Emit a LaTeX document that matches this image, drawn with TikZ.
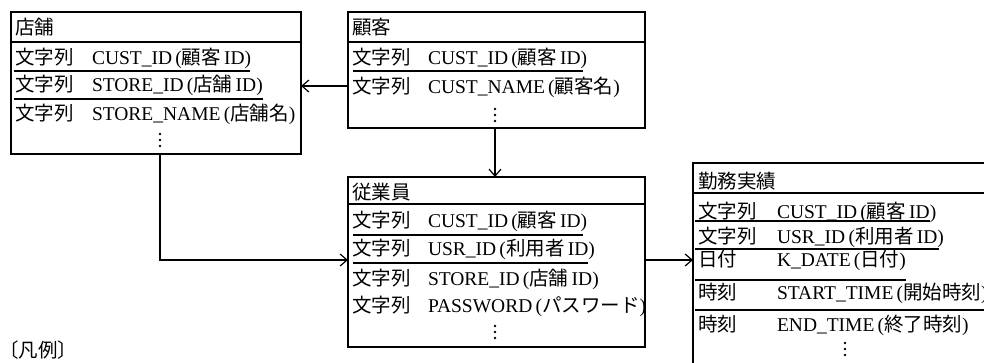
\documentclass[tikz,border=0pt]{standalone}
\usepackage{fontspec}
\setmainfont{Liberation Serif}
\newfontfamily\cjk{Noto Sans CJK JP}
\usetikzlibrary{arrows.meta}
\newcommand\J[1]{{\cjk #1}}
\begin{document}
\begin{tikzpicture}[x=1pt,y=-1pt,
  every node/.style={inner sep=0pt, outer sep=0pt, font=\fontsize{19.5}{21}\selectfont},
  ent/.style={draw, line width=1.4pt, anchor=north west},
  txt/.style={anchor=base west, yshift=-7pt},
  sep/.style={line width=1.2pt},
  arr/.style={line width=1.2pt, -{Straight Barb[length=7pt,width=12pt]}},
  vdot/.style={fill, circle, minimum size=2.6pt}
]
\useasboundingbox (0,0) rectangle (984,362);
\clip (0,0) rectangle (984,362);

% entity boxes
\node[ent, minimum width=290pt, minimum height=142pt] (store) at (11,12) {};
\node[ent, minimum width=297pt, minimum height=116pt] (cust) at (348,12) {};
\node[ent, minimum width=297pt, minimum height=170pt] (emp) at (348,177) {};
\node[ent, minimum width=400pt, minimum height=260pt] (work) at (693,163) {};

% header separators
\draw[sep] (store.west |- 0,42) -- (store.east |- 0,42);
\draw[sep] (cust.west |- 0,42) -- (cust.east |- 0,42);
\draw[sep] (emp.west |- 0,204) -- (emp.east |- 0,204);
\draw[sep] (work.west |- 0,193) -- (work.east |- 0,193);

% 店舗
\node[txt] (sh) at (15,27) {\J{店舗}};
\node[txt] (s1t) at (15,57) {\J{文字列}};
\node[txt] (s1n) at (92,57) {CUST\_ID\,(\J{顧客}\,ID)};
\node[txt] (s2t) at (15,84) {\J{文字列}};
\node[txt] (s2n) at (92,84) {STORE\_ID\,(\J{店舗}\,ID)};
\node[txt] (s3t) at (15,113) {\J{文字列}};
\node[txt] (s3n) at (92,113) {STORE\_NAME\,(\J{店舗名})};
\foreach \d in {-6,0,6} \node[vdot] at (160,140+\d) {};
\draw[sep] (14,71) -- (250,71);
\draw[sep] (14,99) -- (263,99);

% 顧客
\node[txt] (ch) at (352,27) {\J{顧客}};
\node[txt] (c1t) at (352,57) {\J{文字列}};
\node[txt] (c1n) at (428,57) {CUST\_ID\,(\J{顧客}\,ID)};
\node[txt] (c2t) at (352,86) {\J{文字列}};
\node[txt] (c2n) at (428,86) {CUST\_NAME\,(\J{顧客名})};
\foreach \d in {-6,0,6} \node[vdot] at (495,115+\d) {};
\draw[sep] (353,71) -- (583,71);

% 従業員
\node[txt] (eh) at (352,192) {\J{従業員}};
\node[txt] (e1t) at (352,220) {\J{文字列}};
\node[txt] (e1n) at (428,220) {CUST\_ID\,(\J{顧客}\,ID)};
\node[txt] (e2t) at (352,248) {\J{文字列}};
\node[txt] (e2n) at (428,248) {USR\_ID\,(\J{利用者}\,ID)};
\node[txt] (e3t) at (352,278) {\J{文字列}};
\node[txt] (e3n) at (428,278) {STORE\_ID\,(\J{店舗}\,ID)};
\node[txt] (e4t) at (352,305) {\J{文字列}};
\node[txt] (e4n) at (428,305) {PASSWORD\,(\J{パスワード})};
\foreach \d in {-6,0,6} \node[vdot] at (495,332+\d) {};
\draw[sep] (353,235) -- (583,235);
\draw[sep] (353,263) -- (588,263);

% 勤務実績
\node[txt] (wh) at (698,181) {\J{勤務実績}};
\node[txt] (w1t) at (698,211) {\J{文字列}};
\node[txt] (w1n) at (777,211) {CUST\_ID\,(\J{顧客}\,ID)};
\node[txt] (w2t) at (698,236) {\J{文字列}};
\node[txt] (w2n) at (777,236) {USR\_ID\,(\J{利用者}\,ID)};
\node[txt] (w3t) at (698,259) {\J{日付}};
\node[txt] (w3n) at (777,259) {K\_DATE\,(\J{日付})};
\node[txt] (w4t) at (698,292) {\J{時刻}};
\node[txt] (w4n) at (777,292) {START\_TIME\,(\J{開始時刻})};
\node[txt] (w5t) at (698,324) {\J{時刻}};
\node[txt] (w5n) at (777,324) {END\_TIME\,(\J{終了時刻})};
\foreach \d in {-6,0,6} \node[vdot] at (845,349+\d) {};
\draw[sep] (695,221) -- (930,221);
\draw[sep] (695,249) -- (939,249);
\draw[sep] (695,280) -- (906,280);
\draw[sep] (695,310) -- (984,310);

% connectors
\draw[arr] (cust.west |- 0,86) -- (store.east |- 0,86);
\draw[arr] (495,0 |- cust.south) -- (495,0 |- emp.north);
\draw[arr] (160,0 |- store.south) |- (emp.west |- 0,260);
\draw[arr] (emp.east |- 0,260) -- (work.west |- 0,260);

% legend
\node[txt] (legend) at (-1,350) {\J{〔凡例〕}};
\end{tikzpicture}
\end{document}
